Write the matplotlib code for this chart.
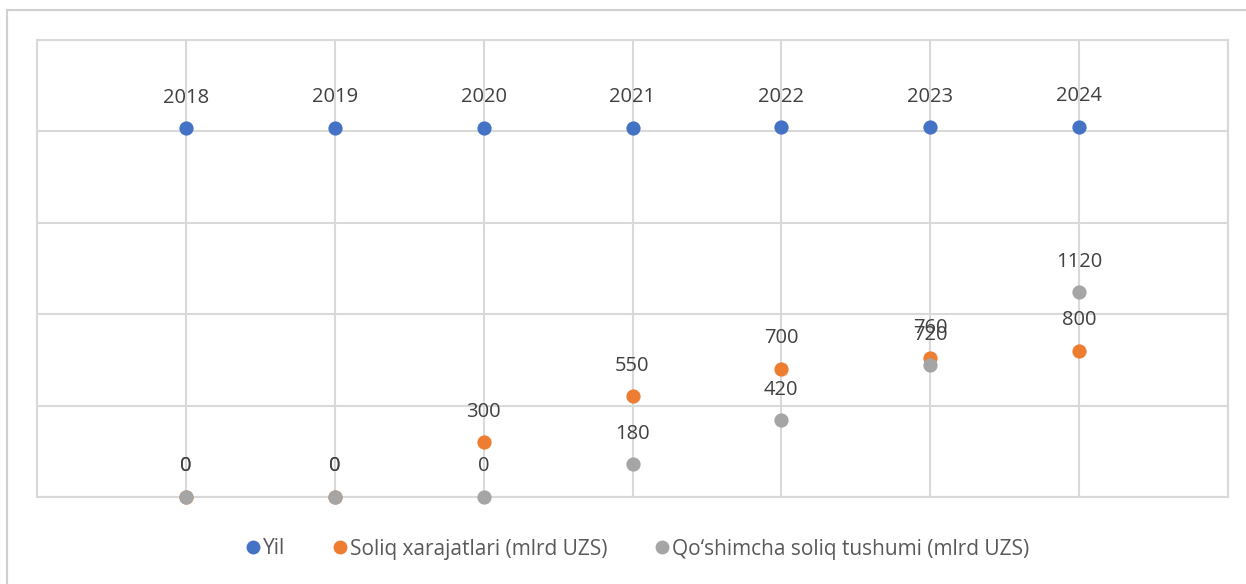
import numpy as np
import matplotlib.pyplot as plt
from matplotlib.lines import Line2D

# ma'lumotlar
yillar = [2018, 2019, 2020, 2021, 2022, 2023, 2024]
soliq_xarajatlari = [0, 0, 300, 550, 700, 760, 800]
qoshimcha_tushum = [0, 0, 0, 180, 420, 720, 1120]
nomlar = ['Yil', 'Soliq xarajatlari (mlrd UZS)', 'Qo\u2018shimcha soliq tushumi (mlrd UZS)']
ranglar = ['#4472C4', '#ED7D31', '#A5A5A5']

plt.rcParams['font.family'] = ['Open Sans', 'DejaVu Sans']

fig = plt.figure(figsize=(12.46, 5.84), dpi=100)
ax = fig.add_axes([37/1246, 1-497/584, (1228-37)/1246, (497-40)/584])

x = np.arange(1, len(yillar)+1)
seriyalar = [yillar, soliq_xarajatlari, qoshimcha_tushum]

for qiymat, rang in zip(seriyalar, ranglar):
    ax.scatter(x, qiymat, s=105, color=rang, zorder=3, clip_on=False, linewidths=0)
    for xi, yi in zip(x, qiymat):
        ax.annotate(str(yi), (xi, yi), xytext=(0, 22), textcoords='offset points',
                    ha='center', va='center', fontsize=14.5, color='#404040', zorder=4)

ax.set_xlim(0, 8)
ax.set_ylim(0, 2500)
ax.set_xticks(np.arange(0, 9))
ax.set_yticks(np.arange(0, 2501, 500))
ax.grid(True, color='#d9d9d9', linewidth=1.5)
ax.set_axisbelow(True)
ax.tick_params(length=0, labelbottom=False, labelleft=False)
for s in ax.spines.values():
    s.set_color('#d9d9d9')
    s.set_linewidth(1.5)

handles = [Line2D([], [], marker='o', linestyle='none', markersize=10,
                  markerfacecolor=r, markeredgewidth=0) for r in ranglar]
fig.legend(handles, nomlar, loc='center', bbox_to_anchor=(636/1246, 1-549/584),
           ncol=3, frameon=False, fontsize=15, handletextpad=0.0,
           columnspacing=2.1, handlelength=1.0, labelcolor='#595959')

# tashqi ramka
fig.add_artist(Line2D([7/1246, 7/1246], [0, 1-10/584], transform=fig.transFigure,
                      color='#d0d0d0', linewidth=1.5))
fig.add_artist(Line2D([7/1246, 1], [1-10/584, 1-10/584], transform=fig.transFigure,
                      color='#d0d0d0', linewidth=1.5))

fig.savefig('out.png', dpi=100)
